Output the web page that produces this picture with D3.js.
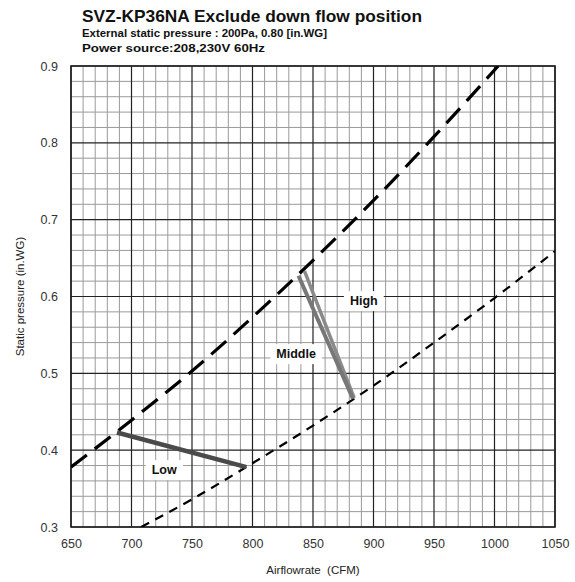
<!DOCTYPE html>
<html>
<head>
<meta charset="utf-8">
<script src="https://cdn.jsdelivr.net/npm/d3@7"></script>
<style>
  body { margin: 0; background: #fff; }
  text { font-family: "Liberation Sans", Arial, sans-serif; }
</style>
</head>
<body>
<svg id="chart"></svg>
<script>
// values
const xTicks = [650, 700, 750, 800, 850, 900, 950, 1000, 1050];
const yTicks = [0.3, 0.4, 0.5, 0.6, 0.7, 0.8, 0.9];

// upper system curve (long dash)
const upperCurve = [
  [650, 0.378], [700, 0.439], [750, 0.503], [800, 0.573],
  [850, 0.647], [900, 0.725], [950, 0.808], [1003, 0.9]
];
// lower system curve (short dash)
const lowerCurve = [
  [708, 0.3], [750, 0.336], [800, 0.383], [850, 0.432],
  [900, 0.484], [950, 0.540], [1000, 0.598], [1050, 0.659]
];
// fan speed lines
const lowLine = [[688, 0.423], [795, 0.378]];
const middleLine = [[838, 0.627], [883, 0.467]];
const highLine = [[843, 0.633], [884, 0.468]];

const speedLabels = [
  { name: 'High', x: 892, y: 0.594 },
  { name: 'Middle', x: 836, y: 0.525 },
  { name: 'Low', x: 727, y: 0.374 }
];

const W = 575, H = 582;
const margin = { top: 66, right: 20, bottom: 55, left: 71 };
const width = 555 - margin.left;
const height = 527 - margin.top;

const svg = d3.select('#chart').attr('width', W).attr('height', H);
const g = svg.append('g').attr('transform', `translate(${margin.left},${margin.top})`);

const x = d3.scaleLinear().domain([650, 1050]).range([0, width]);
const y = d3.scaleLinear().domain([0.3, 0.9]).range([height, 0]);

// minor grid
const xMinor = d3.range(660, 1050, 10).filter(v => v % 50 !== 0);
const yMinor = d3.range(0.32, 0.9, 0.02).filter(v => Math.abs(v * 10 - Math.round(v * 10)) > 0.01);

g.selectAll('.vminor').data(xMinor).enter().append('line')
  .attr('x1', d => x(d)).attr('x2', d => x(d))
  .attr('y1', 0).attr('y2', height)
  .attr('stroke', '#9a9a9a').attr('stroke-width', 1);

g.selectAll('.hminor').data(yMinor).enter().append('line')
  .attr('x1', 0).attr('x2', width)
  .attr('y1', d => y(d)).attr('y2', d => y(d))
  .attr('stroke', '#9a9a9a').attr('stroke-width', 1);

// major grid
g.selectAll('.vmajor').data(xTicks).enter().append('line')
  .attr('x1', d => x(d)).attr('x2', d => x(d))
  .attr('y1', 0).attr('y2', height)
  .attr('stroke', '#222').attr('stroke-width', 1.2);

g.selectAll('.hmajor').data(yTicks).enter().append('line')
  .attr('x1', 0).attr('x2', width)
  .attr('y1', d => y(d)).attr('y2', d => y(d))
  .attr('stroke', '#222').attr('stroke-width', 1.2);

// frame
g.append('rect')
  .attr('width', width).attr('height', height)
  .attr('fill', 'none').attr('stroke', '#222').attr('stroke-width', 1.6);

// axes (labels only)
const xAxis = g.append('g').attr('transform', `translate(0,${height})`)
  .call(d3.axisBottom(x).tickValues(xTicks).tickSize(0).tickPadding(12).tickFormat(d3.format('d')));
const yAxis = g.append('g')
  .call(d3.axisLeft(y).tickValues(yTicks).tickSize(0).tickPadding(13).tickFormat(d3.format('.1f')));
[xAxis, yAxis].forEach(a => {
  a.select('.domain').remove();
  a.selectAll('text').style('font-size', '12.5px').attr('fill', '#333')
    .style('font-family', '"Liberation Sans", Arial, sans-serif');
});

const line = d3.line().x(d => x(d[0])).y(d => y(d[1]));
const curve = d3.line().x(d => x(d[0])).y(d => y(d[1])).curve(d3.curveMonotoneX);

// system curves
g.append('clipPath').attr('id', 'clip').append('rect').attr('width', width).attr('height', height);

g.append('path').datum(upperCurve)
  .attr('d', curve).attr('fill', 'none').attr('clip-path', 'url(#clip)')
  .attr('stroke', '#000').attr('stroke-width', 3.2).attr('stroke-dasharray', '20,10');

g.append('path').datum(lowerCurve)
  .attr('d', curve).attr('fill', 'none').attr('clip-path', 'url(#clip)')
  .attr('stroke', '#000').attr('stroke-width', 2.2).attr('stroke-dasharray', '9,7');

// fan speed lines
g.append('path').datum(lowLine)
  .attr('d', line).attr('fill', 'none')
  .attr('stroke', '#4a4a4a').attr('stroke-width', 4.5);

g.append('path').datum(highLine)
  .attr('d', line).attr('fill', 'none')
  .attr('stroke', '#8a8a8a').attr('stroke-width', 3.5);

g.append('path').datum(middleLine)
  .attr('d', line).attr('fill', 'none')
  .attr('stroke', '#777').attr('stroke-width', 4);

// speed labels on white boxes
speedLabels.forEach(d => {
  const t = g.append('text')
    .attr('x', x(d.x)).attr('y', y(d.y))
    .attr('text-anchor', 'middle').attr('dominant-baseline', 'central')
    .style('font-size', '12.5px').style('font-weight', 'bold').attr('fill', '#111')
    .text(d.name);
  const b = t.node().getBBox();
  g.insert('rect', function () { return t.node(); })
    .attr('x', b.x - 6).attr('y', b.y - 3)
    .attr('width', b.width + 12).attr('height', b.height + 6)
    .attr('fill', '#fff');
});

// titles
svg.append('text').attr('x', 82).attr('y', 22)
  .attr('textLength', 340).attr('lengthAdjust', 'spacingAndGlyphs')
  .style('font-size', '17px').style('font-weight', 'bold').attr('fill', '#111')
  .text('SVZ-KP36NA Exclude down flow position');
svg.append('text').attr('x', 82).attr('y', 37)
  .attr('textLength', 245).attr('lengthAdjust', 'spacingAndGlyphs')
  .style('font-size', '11px').style('font-weight', 'bold').attr('fill', '#111')
  .text('External static pressure : 200Pa, 0.80 [in.WG]');
svg.append('text').attr('x', 82).attr('y', 52)
  .attr('textLength', 183).attr('lengthAdjust', 'spacingAndGlyphs')
  .style('font-size', '11px').style('font-weight', 'bold').attr('fill', '#111')
  .text('Power source:208,230V 60Hz');

// axis titles
svg.append('text')
  .attr('x', margin.left + width / 2).attr('y', 574)
  .attr('text-anchor', 'middle').style('font-size', '11.5px').attr('fill', '#222')
  .style('white-space', 'pre')
  .text('Airflowrate  (CFM)');

svg.append('text')
  .attr('transform', `translate(24,${margin.top + height / 2}) rotate(-90)`)
  .attr('text-anchor', 'middle').style('font-size', '11.5px').attr('fill', '#222')
  .text('Static pressure (in.WG)');
</script>
</body>
</html>
